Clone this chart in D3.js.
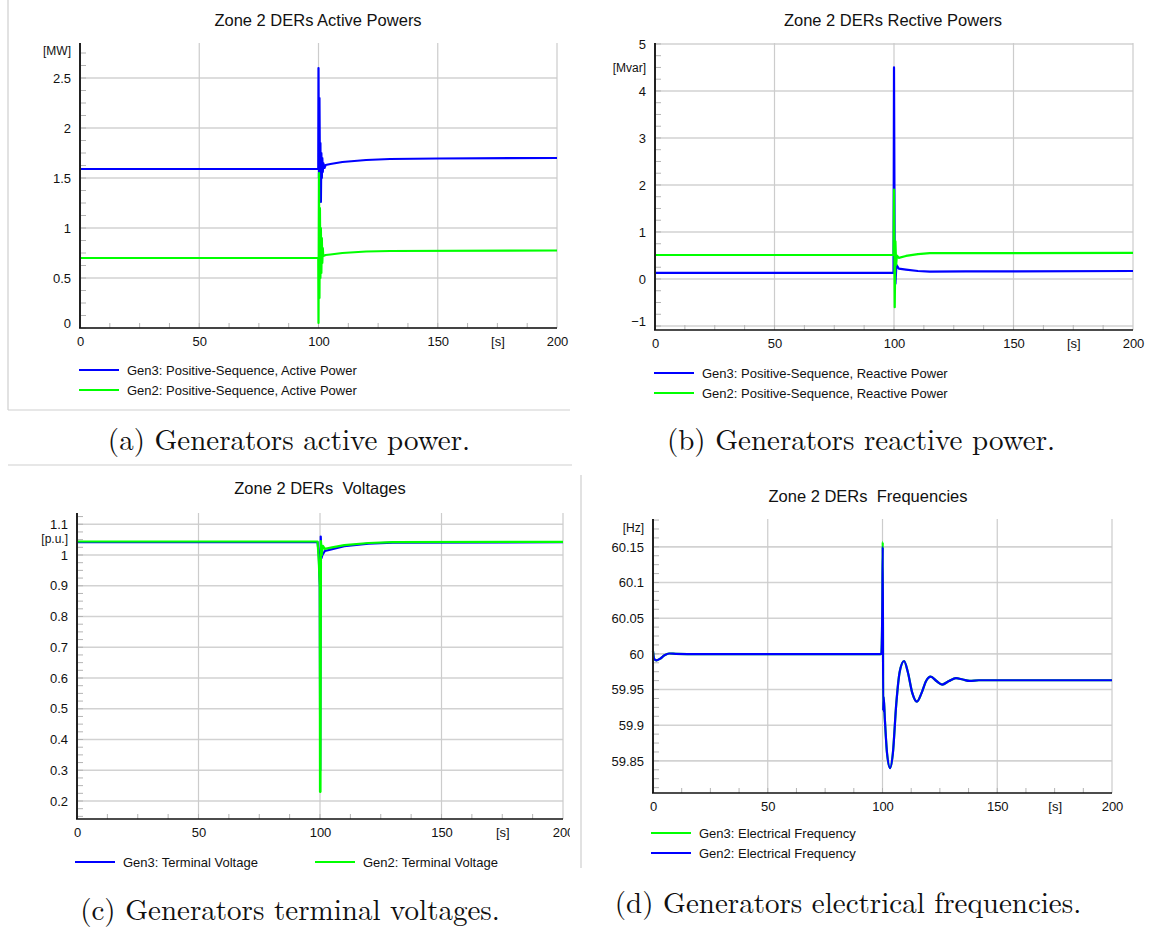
<!DOCTYPE html>
<html>
<head>
<meta charset="utf-8">
<script src="https://cdn.jsdelivr.net/npm/d3@7"></script>
<style>
  body { margin: 0; background: #fff; }
  svg { display: block; font-family: "Liberation Sans", Arial, sans-serif; }
  .title { white-space: pre; }
</style>
</head>
<body>
<div id="chart"></div>
<script>
// ---- data, [time s, value] ----
const activeGen3 = [[0,1.59],[99.9,1.59],[100,2.6],[100.2,1.5],[100.4,2.3],[100.6,1.55],[100.8,1.85],[101,1.26],[101.2,1.75],[101.4,1.5],[101.6,1.7],[101.8,1.56],[102,1.65],[102.5,1.6],[103,1.63],[105,1.64],[110,1.66],[120,1.68],[130,1.69],[150,1.695],[200,1.70]];
const activeGen2 = [[0,0.70],[99.9,0.70],[100,0.05],[100.2,1.55],[100.4,0.3],[100.6,1.2],[100.8,0.5],[101,1.0],[101.2,0.55],[101.4,0.9],[101.6,0.65],[101.8,0.8],[102,0.72],[103,0.73],[105,0.735],[110,0.75],[120,0.765],[130,0.77],[200,0.775]];

const reactiveGen3 = [[0,0.13],[99.8,0.13],[100,4.5],[100.3,0.25],[100.6,-0.1],[101,0.3],[102,0.22],[105,0.2],[110,0.17],[115,0.155],[130,0.16],[200,0.17]];
const reactiveGen2 = [[0,0.51],[99.8,0.51],[100,1.9],[100.3,-0.6],[100.6,0.8],[100.9,0.3],[101.2,0.5],[102,0.45],[105,0.49],[110,0.53],[115,0.55],[200,0.555]];

const voltageGen3 = [[0,1.042],[99,1.042],[99.5,1.0],[99.9,0.9],[100.1,0.3],[100.3,1.06],[100.6,0.99],[101,1.0],[102,1.013],[105,1.019],[110,1.029],[120,1.037],[130,1.04],[200,1.042]];
const voltageGen2 = [[0,1.044],[99,1.044],[99.5,0.98],[99.9,0.9],[100,0.23],[100.2,0.23],[100.4,1.045],[100.7,1.0],[101.2,1.03],[102,1.02],[105,1.025],[110,1.032],[120,1.039],[130,1.042],[200,1.043]];

const freqGen3 = [[0,60.004],[0.5,59.993],[1.5,59.991],[3,59.993],[5,59.998],[7,60.0005],[10,60.0],[20,59.9995],[98.5,59.9995],[99.5,60.0],[99.9,60.06],[100.1,60.157],[100.3,59.92],[100.5,59.94],[101,59.91],[102,59.86],[103.3,59.84],[104.5,59.86],[106,59.93],[107.5,59.975],[109.4,59.99],[111,59.975],[113,59.945],[115,59.933],[117,59.945],[119,59.962],[121,59.968],[123.5,59.962],[126,59.957],[129,59.962],[132,59.966],[135,59.964],[138,59.962],[142,59.963],[150,59.963],[200,59.963]];
const freqGen2 = [[0,60.004],[0.5,59.993],[1.5,59.991],[3,59.993],[5,59.998],[7,60.0005],[10,60.0],[20,59.9995],[98.5,59.9995],[99.5,60.0],[99.9,60.06],[100.1,60.15],[100.3,59.92],[100.5,59.94],[101,59.91],[102,59.86],[103.3,59.84],[104.5,59.86],[106,59.93],[107.5,59.975],[109.4,59.99],[111,59.975],[113,59.945],[115,59.933],[117,59.945],[119,59.962],[121,59.968],[123.5,59.962],[126,59.957],[129,59.962],[132,59.966],[135,59.964],[138,59.962],[142,59.963],[150,59.963],[200,59.963]];

const xMajor = [0, 50, 100, 150, 200];
const xLabels = [0, 50, 100, 150, 175, 200];   // 175 carries the unit "[s]"
const yTicksA = [0, 0.5, 1, 1.5, 2, 2.5];
const yTicksB = [-1, 0, 1, 2, 3, 4, 5];
const yTicksC = [0.2, 0.3, 0.4, 0.5, 0.6, 0.7, 0.8, 0.9, 1, 1.1];
const yTicksD = [59.85, 59.9, 59.95, 60, 60.05, 60.1, 60.15];

const BLUE = "#0000ff", GREEN = "#00ff00";

const svg = d3.select("#chart").append("svg")
  .attr("width", 1149)
  .attr("height", 928);

svg.append("rect").attr("width", 1149).attr("height", 928).attr("fill", "#fff");

// thin frame lines around the sub-figures
const frame = svg.append("g").attr("stroke", "#cfcfcf").attr("stroke-width", 1.2);
frame.append("line").attr("x1", 8).attr("x2", 8).attr("y1", 0).attr("y2", 410);
frame.append("line").attr("x1", 8).attr("x2", 570).attr("y1", 410).attr("y2", 410);
frame.append("line").attr("x1", 8).attr("x2", 572).attr("y1", 465).attr("y2", 465);
frame.append("line").attr("x1", 581).attr("x2", 581).attr("y1", 475).attr("y2", 868);

function drawPanel(p, id) {
  const defs = svg.append("defs");
  defs.append("clipPath").attr("id", "clip" + id)
    .append("rect").attr("x", p.clip[0]).attr("y", 0)
    .attr("width", p.clip[1] - p.clip[0]).attr("height", 928);

  const g = svg.append("g").attr("clip-path", `url(#clip${id})`);

  const x = d3.scaleLinear().domain([0, 200]).range([p.left, p.right]);
  const y = d3.scaleLinear().domain(p.yDomain).range([p.bottom, p.top]);

  // horizontal grid
  g.append("g").selectAll("line").data(p.yTicks).join("line")
    .attr("x1", p.left).attr("x2", p.right)
    .attr("y1", d => y(d)).attr("y2", d => y(d))
    .attr("stroke", "#d2d2d2").attr("stroke-width", 1.6);

  // vertical grid
  g.append("g").selectAll("line").data(xMajor.slice(1)).join("line")
    .attr("x1", d => x(d)).attr("x2", d => x(d))
    .attr("y1", p.top).attr("y2", p.bottom)
    .attr("stroke", "#cccccc").attr("stroke-width", 1.2);

  // minor ticks on y axis
  const yMinor = d3.range(p.yTicks[0] - p.yMinorStep * 8, p.yDomain[1], p.yMinorStep)
    .filter(v => v >= p.yDomain[0] && v <= p.yDomain[1]);
  g.append("g").selectAll("line").data(yMinor).join("line")
    .attr("x1", p.left).attr("x2", p.left + 6)
    .attr("y1", d => y(d)).attr("y2", d => y(d))
    .attr("stroke", "#b4b4b4").attr("stroke-width", 1);

  // minor ticks on x axis
  g.append("g").selectAll("line").data(d3.range(12.5, 200, 12.5)).join("line")
    .attr("x1", d => x(d)).attr("x2", d => x(d))
    .attr("y1", p.bottom).attr("y2", p.bottom - 5)
    .attr("stroke", "#b4b4b4").attr("stroke-width", 1);

  // series
  const line = d3.line()
    .x(d => x(d[0]))
    .y(d => y(d[1]))
    .curve(p.smooth ? d3.curveMonotoneX : d3.curveLinear);

  p.series.forEach(s => {
    g.append("path")
      .datum(s.data)
      .attr("fill", "none")
      .attr("stroke", s.color)
      .attr("stroke-width", 2.2)
      .attr("stroke-linejoin", "round")
      .attr("d", line);
  });

  // axis lines
  g.append("line").attr("x1", p.left).attr("x2", p.left)
    .attr("y1", p.top).attr("y2", p.bottom)
    .attr("stroke", "#222").attr("stroke-width", 2);
  g.append("line").attr("x1", p.left - 1).attr("x2", p.right)
    .attr("y1", p.bottom).attr("y2", p.bottom)
    .attr("stroke", "#111").attr("stroke-width", 1.6);

  // y labels
  const yAxis = g.append("g")
    .attr("transform", `translate(${p.left},0)`)
    .call(d3.axisLeft(y).tickValues(p.yTicks).tickSize(0).tickPadding(9)
      .tickFormat(d3.format("")));
  yAxis.select(".domain").remove();
  yAxis.selectAll("text")
    .attr("font-size", 13).attr("font-family", "Liberation Sans, Arial, sans-serif")
    .attr("fill", "#111")
    .attr("dy", d => y(d) > p.bottom - 6 ? "-0.05em" : "0.32em");

  g.append("text")
    .attr("x", p.left - 9).attr("y", p.unitY)
    .attr("text-anchor", "end").attr("dy", "0.32em")
    .attr("font-size", 12).attr("fill", "#111")
    .text(p.unit);

  // x labels
  const xAxis = g.append("g")
    .attr("transform", `translate(0,${p.bottom})`)
    .call(d3.axisBottom(x).tickValues(xLabels).tickSize(0).tickPadding(9)
      .tickFormat(d => d === 175 ? "[s]" : d));
  xAxis.select(".domain").remove();
  xAxis.selectAll("text")
    .attr("font-size", 13).attr("font-family", "Liberation Sans, Arial, sans-serif")
    .attr("fill", "#111");

  // title
  g.append("text")
    .attr("class", "title")
    .attr("x", p.titleX).attr("y", p.titleY)
    .attr("text-anchor", "middle").attr("dy", "0.35em")
    .attr("font-size", 16.5).attr("fill", "#111")
    .text(p.title);

  // legend
  p.series.forEach((s, i) => {
    const lx = p.legend[i][0], ly = p.legend[i][1];
    g.append("line")
      .attr("x1", lx).attr("x2", lx + 40)
      .attr("y1", ly).attr("y2", ly)
      .attr("stroke", s.color).attr("stroke-width", 2.2);
    g.append("text")
      .attr("x", lx + 48).attr("y", ly).attr("dy", "0.35em")
      .attr("font-size", 13).attr("fill", "#111")
      .text(s.name);
  });

  // caption
  svg.append("text")
    .attr("x", p.capX).attr("y", p.capY)
    .attr("text-anchor", "middle").attr("dy", "0.35em")
    .attr("font-family", "'Latin Modern Roman', 'DejaVu Serif', serif")
    .attr("font-size", 29).attr("fill", "#111")
    .text(p.caption);
}

const panels = [
  {
    left: 80, right: 557, top: 43, bottom: 328, clip: [0, 572],
    yDomain: [0, 2.85], yTicks: yTicksA, yMinorStep: 0.125,
    unit: "[MW]", unitY: 51,
    title: "Zone 2 DERs Active Powers", titleX: 318, titleY: 20,
    series: [
      { name: "Gen3: Positive-Sequence, Active Power", color: BLUE, data: activeGen3 },
      { name: "Gen2: Positive-Sequence, Active Power", color: GREEN, data: activeGen2 }
    ],
    legend: [[79, 370], [79, 390]],
    caption: "(a) Generators active power.", capX: 289, capY: 440
  },
  {
    left: 655, right: 1133, top: 43, bottom: 330, clip: [575, 1149],
    yDomain: [-1.085, 5.02], yTicks: yTicksB, yMinorStep: 0.25,
    unit: "[Mvar]", unitY: 68,
    title: "Zone 2 DERs Rective Powers", titleX: 893, titleY: 20,
    series: [
      { name: "Gen3: Positive-Sequence, Reactive Power", color: BLUE, data: reactiveGen3 },
      { name: "Gen2: Positive-Sequence, Reactive Power", color: GREEN, data: reactiveGen2 }
    ],
    legend: [[654, 373], [654, 393]],
    caption: "(b) Generators reactive power.", capX: 861, capY: 440
  },
  {
    left: 77, right: 563, top: 513, bottom: 819, clip: [0, 570],
    yDomain: [0.1415, 1.1366], yTicks: yTicksC, yMinorStep: 0.025,
    unit: "[p.u.]", unitY: 539,
    title: "Zone 2 DERs  Voltages", titleX: 320, titleY: 488,
    series: [
      { name: "Gen3: Terminal Voltage", color: BLUE, data: voltageGen3 },
      { name: "Gen2: Terminal Voltage", color: GREEN, data: voltageGen2 }
    ],
    legend: [[75, 862], [315, 862]],
    caption: "(c) Generators terminal voltages.", capX: 290, capY: 910
  },
  {
    left: 653, right: 1112, top: 519, bottom: 793, clip: [582, 1149],
    yDomain: [59.805, 60.189], yTicks: yTicksD, yMinorStep: 0.0125,
    unit: "[Hz]", unitY: 528, smooth: true,
    title: "Zone 2 DERs  Frequencies", titleX: 868, titleY: 496,
    series: [
      { name: "Gen3: Electrical Frequency", color: GREEN, data: freqGen3 },
      { name: "Gen2: Electrical Frequency", color: BLUE, data: freqGen2 }
    ],
    legend: [[651, 833], [651, 853]],
    caption: "(d) Generators electrical frequencies.", capX: 848, capY: 903
  }
];

panels.forEach((p, i) => drawPanel(p, i));
</script>
</body>
</html>
